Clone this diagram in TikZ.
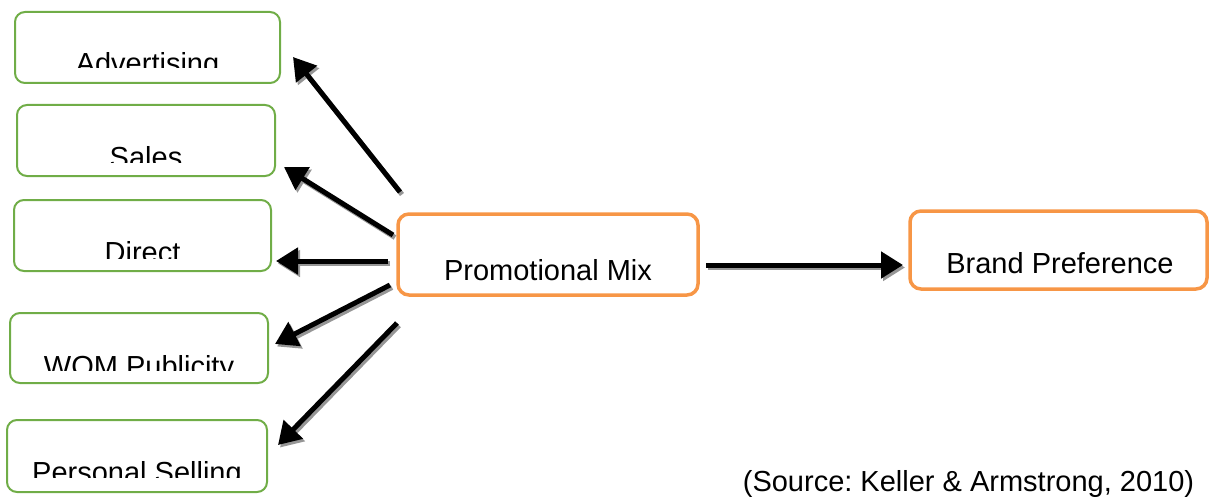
\documentclass[tikz,border=0pt]{standalone}
\usepackage{fontspec}
\setmainfont{Liberation Sans}
\usetikzlibrary{arrows.meta}
\definecolor{gbord}{RGB}{112,173,71}
\definecolor{obord}{RGB}{247,150,70}
\definecolor{shd}{RGB}{150,150,150}
\frenchspacing
\tikzset{
  gbox/.style={draw=gbord, line width=2pt, rounded corners=10pt, inner sep=0pt},
  obox/.style={draw=obord, line width=3.5pt, rounded corners=11pt, inner sep=0pt},
  lbl/.style={anchor=base, inner sep=0pt, font=\fontsize{29}{34}\selectfont, text=black},
  arr/.style={line width=5pt, draw=black, -{Triangle[length=22pt,width=26pt]}},
  shadarr/.style={line width=5pt, draw=shd, -{Triangle[length=22pt,width=26pt]}}
}
\newcommand{\sarrow}[2]{%
  \draw[shadarr] ([shift={(2,2.5)}]#1) -- ([shift={(2,2.5)}]#2);
  \draw[arr] (#1) -- (#2);}
\begin{document}
\begin{tikzpicture}[x=1pt,y=-1pt]
\useasboundingbox (0,0) rectangle (1209,500);
% left boxes
\node[gbox, minimum width=265pt, minimum height=71pt] (adv) at (147.5,47.5) {};
\node[gbox, minimum width=258pt, minimum height=71pt] (sal) at (146,140.5) {};
\node[gbox, minimum width=257pt, minimum height=71pt] (dir) at (142.5,235.5) {};
\node[gbox, minimum width=258pt, minimum height=70pt] (wom) at (139,348) {};
\node[gbox, minimum width=260pt, minimum height=72pt] (per) at (137,456) {};
% clipped labels
\begin{scope}
\clip (15,12) rectangle (280,68);
\node[lbl] (advT) at (147.5,74) {Advertising};
\end{scope}
\begin{scope}
\clip (17,105) rectangle (275,162);
\node[lbl] (salT) at (146,167.5) {Sales};
\end{scope}
\begin{scope}
\clip (14,200) rectangle (271,258);
\node[lbl] (dirT) at (142.5,262.5) {Direct};
\end{scope}
\begin{scope}
\clip (10,313) rectangle (268,370);
\node[lbl] (womT) at (139,376) {WOM Publicity};
\end{scope}
\begin{scope}
\clip (7,420) rectangle (267,477);
\node[lbl] (perT) at (137,482.5) {Personal Selling};
\end{scope}
% center and right boxes
\node[obox, minimum width=300pt, minimum height=81pt] (pm) at (548,254.5) {};
\node[lbl] (pmT) at (548,280) {Promotional Mix};
\node[obox, minimum width=297pt, minimum height=78pt] (bp) at (1058.5,250) {};
\node[lbl] (bpT) at (1060,273) {Brand Preference};
% source
\node[lbl] (src) at (968.5,491) {(Source: Keller \& Armstrong, 2010)};
% arrow end points
\coordinate (s1) at (400,192); \coordinate (t1) at (293,57);
\coordinate (s2) at (393,235); \coordinate (t2) at (284,167);
\coordinate (s3) at (388,261); \coordinate (t3) at (276,261);
\coordinate (s4) at (390,285); \coordinate (t4) at (275,344);
\coordinate (s5) at (397,323); \coordinate (t5) at (278,445);
\coordinate (s6) at (706,265); \coordinate (t6) at (903,265);
\sarrow{s1}{t1}
\sarrow{s2}{t2}
\sarrow{s3}{t3}
\sarrow{s4}{t4}
\sarrow{s5}{t5}
\sarrow{s6}{t6}
\end{tikzpicture}
\end{document}
